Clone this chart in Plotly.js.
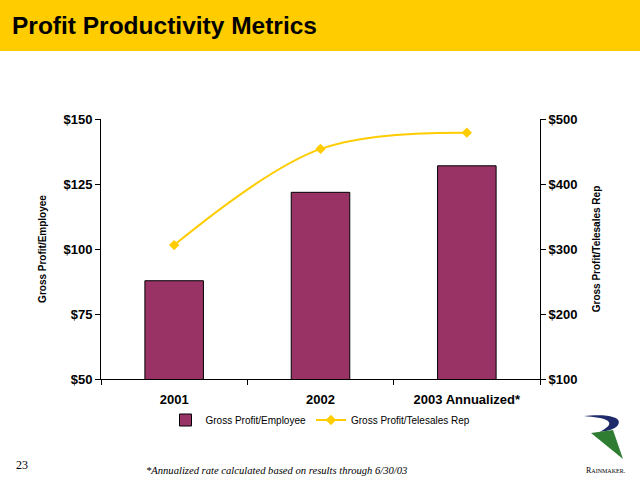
<!DOCTYPE html>
<html>
<head>
<meta charset="utf-8">
<script src="https://cdn.plot.ly/plotly-3.0.1.min.js"></script>
<style>html,body{margin:0;padding:0;background:#fff;}#chart{width:640px;height:480px;}</style>
</head>
<body>
<div id="chart"></div>
<script>
const categories = ["2001", "2002", "2003 Annualized*"];
const profitPerEmployee = [87.8, 121.8, 132];
const profitPerTelesalesRep = [306, 454, 479];
const leftTicks = [50, 75, 100, 125, 150];
const leftTickLabels = ["$50", "$75", "$100", "$125", "$150"];
const rightTicks = [100, 200, 300, 400, 500];
const rightTickLabels = ["$100", "$200", "$300", "$400", "$500"];

const L = 101, R = 540, T = 119, B = 379;
const W = 640, H = 480;
const X = px => (px - L) / (R - L);
const Y = py => (B - py) / (B - T);

const sans = "Liberation Sans, Arial, sans-serif";
const serif = "Liberation Serif, Times New Roman, serif";

const traces = [
  {
    type: "bar", name: "Gross Profit/Employee",
    x: categories, y: profitPerEmployee, width: 0.4,
    marker: {color: "#993366", line: {color: "#000", width: 1}},
    yaxis: "y"
  },
  {
    type: "scatter", mode: "lines+markers", name: "Gross Profit/Telesales Rep",
    x: categories, y: profitPerTelesalesRep, yaxis: "y2",
    line: {color: "#FFCC00", width: 2, shape: "spline", smoothing: 1},
    marker: {symbol: "diamond", size: 8, color: "#FFCC00"}
  }
];

const swoosh = `M ${X(584)} ${Y(416)} C ${X(600)} ${Y(414)}, ${X(624)} ${Y(415)}, ${X(618)} ${Y(425)} C ${X(615)} ${Y(429)}, ${X(608)} ${Y(431)}, ${X(600)} ${Y(432)} C ${X(606)} ${Y(428)}, ${X(612)} ${Y(425)}, ${X(608)} ${Y(421)} C ${X(604)} ${Y(418)}, ${X(594)} ${Y(417)}, ${X(584)} ${Y(416)} Z`;
const tri = `M ${X(591)} ${Y(433)} L ${X(613)} ${Y(430)} L ${X(623)} ${Y(459)} Z`;

const tickFont = {family: sans, size: 13, color: "#000", weight: "bold"};
const titleFont = {family: sans, size: 10, color: "#000", weight: "bold"};

const layout = {
  width: W, height: H,
  margin: {l: L, r: W - R, t: T, b: H - B, pad: 0},
  paper_bgcolor: "#fff", plot_bgcolor: "#fff",
  showlegend: true,
  legend: {orientation: "h", x: 0.5, xanchor: "center", y: Y(420), yanchor: "middle",
           font: {family: sans, size: 10, color: "#000"}, itemwidth: 30, bgcolor: "rgba(0,0,0,0)"},
  xaxis: {
    type: "category", showline: true, linecolor: "#000", linewidth: 1,
    ticks: "outside", ticklen: 5, tickcolor: "#000", tickson: "boundaries", ticklabelstandoff: 8,
    tickfont: tickFont, showgrid: false, zeroline: false, range: [-0.5, 2.5]
  },
  yaxis: {
    range: [50, 150], tickvals: leftTicks, ticktext: leftTickLabels,
    showline: true, linecolor: "#000", linewidth: 1, ticks: "outside", ticklen: 5, tickcolor: "#000",
    tickfont: tickFont, showgrid: false, zeroline: false,
    title: {text: "Gross Profit/Employee", font: titleFont, standoff: 14}
  },
  yaxis2: {
    overlaying: "y", side: "right", range: [100, 500], tickvals: rightTicks, ticktext: rightTickLabels,
    showline: true, linecolor: "#000", linewidth: 1, ticks: "outside", ticklen: 5, tickcolor: "#000",
    tickfont: tickFont, showgrid: false, zeroline: false,
    title: {text: "Gross Profit/Telesales Rep", font: titleFont, standoff: 16}
  },
  shapes: [
    {type: "rect", xref: "paper", yref: "paper", x0: X(0), x1: X(640), y0: Y(0), y1: Y(51),
     fillcolor: "#FFCC00", line: {width: 0}, layer: "below"},
    {type: "path", xref: "paper", yref: "paper", path: swoosh, fillcolor: "#1F2A6B", line: {width: 0}},
    {type: "path", xref: "paper", yref: "paper", path: tri, fillcolor: "#2E7D32", line: {width: 0}}
  ],
  annotations: [
    {text: "Profit Productivity Metrics", xref: "paper", yref: "paper", x: X(10), y: Y(26),
     xanchor: "left", yanchor: "middle", showarrow: false,
     font: {family: sans, size: 24.5, color: "#000", weight: "bold"}},
    {text: "23", xref: "paper", yref: "paper", x: X(14), y: Y(465), xanchor: "left", yanchor: "middle",
     showarrow: false, font: {family: serif, size: 12, color: "#000"}},
    {text: "<i>*Annualized rate calculated based on results through 6/30/03</i>", xref: "paper", yref: "paper",
     x: X(144), y: Y(470), xanchor: "left", yanchor: "middle", showarrow: false,
     font: {family: serif, size: 10.6, color: "#000"}},
    {text: "R<span style='font-size:6px'>AINMAKER.</span>", xref: "paper", yref: "paper",
     x: X(606), y: Y(470), xanchor: "center", yanchor: "middle", showarrow: false,
     font: {family: serif, size: 8, color: "#000"}}
  ]
};

Plotly.newPlot("chart", traces, layout, {staticPlot: true, displayModeBar: false});
</script>
</body>
</html>
